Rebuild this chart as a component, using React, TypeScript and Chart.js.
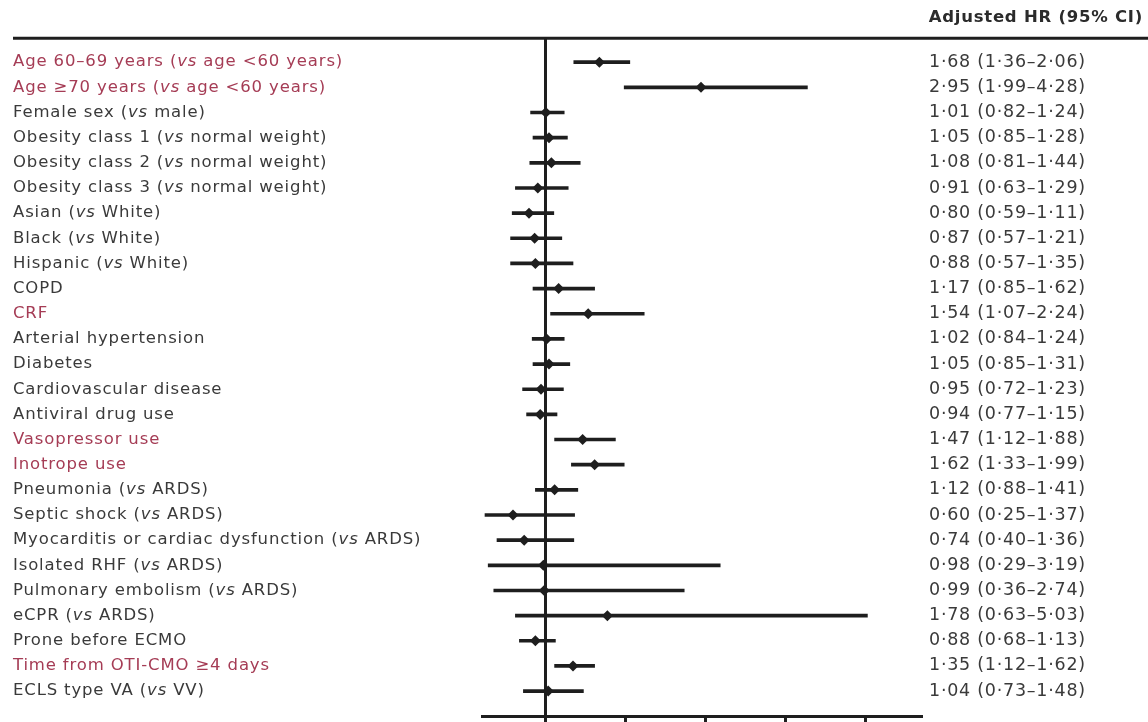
import React, { useEffect, useRef } from "react";
import { Chart, registerables } from "chart.js";

Chart.register(...registerables);

// ---------- data ----------
const labels = [
  "Age 60–69 years (vs age <60 years)",
  "Age ≥70 years (vs age <60 years)",
  "Female sex (vs male)",
  "Obesity class 1 (vs normal weight)",
  "Obesity class 2 (vs normal weight)",
  "Obesity class 3 (vs normal weight)",
  "Asian (vs White)",
  "Black (vs White)",
  "Hispanic (vs White)",
  "COPD",
  "CRF",
  "Arterial hypertension",
  "Diabetes",
  "Cardiovascular disease",
  "Antiviral drug use",
  "Vasopressor use",
  "Inotrope use",
  "Pneumonia (vs ARDS)",
  "Septic shock (vs ARDS)",
  "Myocarditis or cardiac dysfunction (vs ARDS)",
  "Isolated RHF (vs ARDS)",
  "Pulmonary embolism (vs ARDS)",
  "eCPR (vs ARDS)",
  "Prone before ECMO",
  "Time from OTI-CMO ≥4 days",
  "ECLS type VA (vs VV)",
];

const significant = [
  true, true, false, false, false, false, false, false, false, false,
  true, false, false, false, false, true, true, false, false, false,
  false, false, false, false, true, false,
];

const hr = [
  1.68, 2.95, 1.01, 1.05, 1.08, 0.91, 0.8, 0.87, 0.88, 1.17,
  1.54, 1.02, 1.05, 0.95, 0.94, 1.47, 1.62, 1.12, 0.6, 0.74,
  0.98, 0.99, 1.78, 0.88, 1.35, 1.04,
];
const lower = [
  1.36, 1.99, 0.82, 0.85, 0.81, 0.63, 0.59, 0.57, 0.57, 0.85,
  1.07, 0.84, 0.85, 0.72, 0.77, 1.12, 1.33, 0.88, 0.25, 0.4,
  0.29, 0.36, 0.63, 0.68, 1.12, 0.73,
];
const upper = [
  2.06, 4.28, 1.24, 1.28, 1.44, 1.29, 1.11, 1.21, 1.35, 1.62,
  2.24, 1.24, 1.31, 1.23, 1.15, 1.88, 1.99, 1.41, 1.37, 1.36,
  3.19, 2.74, 5.03, 1.13, 1.62, 1.48,
];

const xTicks = [1, 2, 3, 4, 5];
const headerText = "Adjusted HR (95% CI)";

// ---------- style ----------
const FONT = "'DejaVu Sans', 'Open Sans', sans-serif";
const FONT_SIZE = 16.5;
const RIGHT_FONT_SIZE = 17.5;
const RED = "#a53c55";
const GRAY = "#3a3a3a";
const INK = "#1e1e1e";
const LABEL_X = 13;

const fmt = (v: number) => v.toFixed(2).replace(".", "·");
const hrText = hr.map((v, i) => `${fmt(v)} (${fmt(lower[i])}–${fmt(upper[i])})`);

const decorPlugin = {
  id: "decor",
  beforeDraw(chart: any) {
    (chart.ctx as any).letterSpacing = "0.75px";
  },
  afterDraw(chart: any) {
    const { ctx, chartArea, scales } = chart;
    const y = scales.y;
    ctx.save();
    ctx.strokeStyle = INK;
    ctx.lineWidth = 3;
    ctx.beginPath();
    ctx.moveTo(LABEL_X, chartArea.top);
    ctx.lineTo(chart.width, chartArea.top);
    ctx.stroke();

    (ctx as any).letterSpacing = "0.85px";
    ctx.textBaseline = "middle";
    ctx.textAlign = "left";
    labels.forEach((lab, i) => {
      const py = y.getPixelForValue(i);
      let x = LABEL_X;
      lab.split(/(\bvs\b)/).forEach((part) => {
        if (!part) return;
        ctx.font = `${part === "vs" ? "italic " : ""}${FONT_SIZE}px ${FONT}`;
        ctx.fillStyle = significant[i] ? RED : GRAY;
        ctx.fillText(part, x, py);
        x += ctx.measureText(part).width;
      });
    });
    ctx.restore();
  },
};

export default function App() {
  const ref = useRef<HTMLCanvasElement | null>(null);

  useEffect(() => {
    if (!ref.current) return;
    const yMin = -0.95;
    const yMax = 25.99;
    const chart = new Chart(ref.current, {
      type: "bar",
      data: {
        datasets: [
          {
            type: "bar",
            indexAxis: "y",
            data: labels.map((_, i) => ({ y: i, x: [lower[i], upper[i]] })) as any,
            backgroundColor: INK,
            borderWidth: 0,
            barThickness: 3,
            xAxisID: "x",
            yAxisID: "y",
          } as any,
          {
            type: "scatter",
            data: labels.map((_, i) => ({ x: hr[i], y: i })),
            pointStyle: "rectRot",
            pointRadius: 5.5,
            backgroundColor: INK,
            borderWidth: 0,
            xAxisID: "x",
            yAxisID: "y",
          } as any,
        ],
      },
      options: {
        indexAxis: "y",
        animation: false,
        responsive: false,
        maintainAspectRatio: false,
        layout: { padding: { left: 482, right: 5, top: 0, bottom: 0 } },
        plugins: {
          legend: { display: false },
          tooltip: { enabled: false },
          title: {
            display: true,
            text: headerText,
            align: "end",
            color: "#2b2b2b",
            font: { family: FONT, size: 16.5, weight: "bold" },
            padding: { top: 8, bottom: 10.5 },
          },
        },
        scales: {
          x: {
            type: "linear",
            offset: false,
            min: 0.2125,
            max: 5.7,
            afterBuildTicks: (s: any) => {
              s.ticks = xTicks.map((v) => ({ value: v }));
            },
            ticks: { display: false },
            grid: {
              display: true,
              offset: false,
              drawOnChartArea: true,
              drawTicks: true,
              tickLength: 6,
              lineWidth: 3,
              color: (c: any) => (c.tick && c.tick.value === 1 ? INK : "rgba(0,0,0,0)"),
              tickColor: INK,
            },
            border: { display: true, color: INK, width: 3 },
          },
          y: {
            type: "linear",
            reverse: true,
            offset: false,
            min: yMin,
            max: yMax,
            display: false,
            grid: { offset: false },
          },
          y2: {
            type: "linear",
            position: "right",
            reverse: true,
            offset: false,
            min: yMin,
            max: yMax,
            afterBuildTicks: (s: any) => {
              s.ticks = labels.map((_, i) => ({ value: i }));
            },
            afterFit: (s: any) => {
              s.width = 222;
              s.paddingTop = 0;
              s.paddingBottom = 0;
            },
            ticks: {
              autoSkip: false,
              padding: 8,
              color: GRAY,
              font: { family: FONT, size: RIGHT_FONT_SIZE },
              crossAlign: "near",
              callback: (v: any) => hrText[Math.round(Number(v))] ?? "",
            },
            grid: { display: false, drawTicks: false, offset: false },
            border: { display: false },
          },
        },
      } as any,
      plugins: [decorPlugin],
    });
    return () => chart.destroy();
  }, []);

  return (
    <div style={{ position: "fixed", left: 0, top: 0, width: 1148, height: 722, background: "#fff" }}>
      <canvas ref={ref} width={1148} height={722} style={{ display: "block", width: 1148, height: 722 }} />
    </div>
  );
}
